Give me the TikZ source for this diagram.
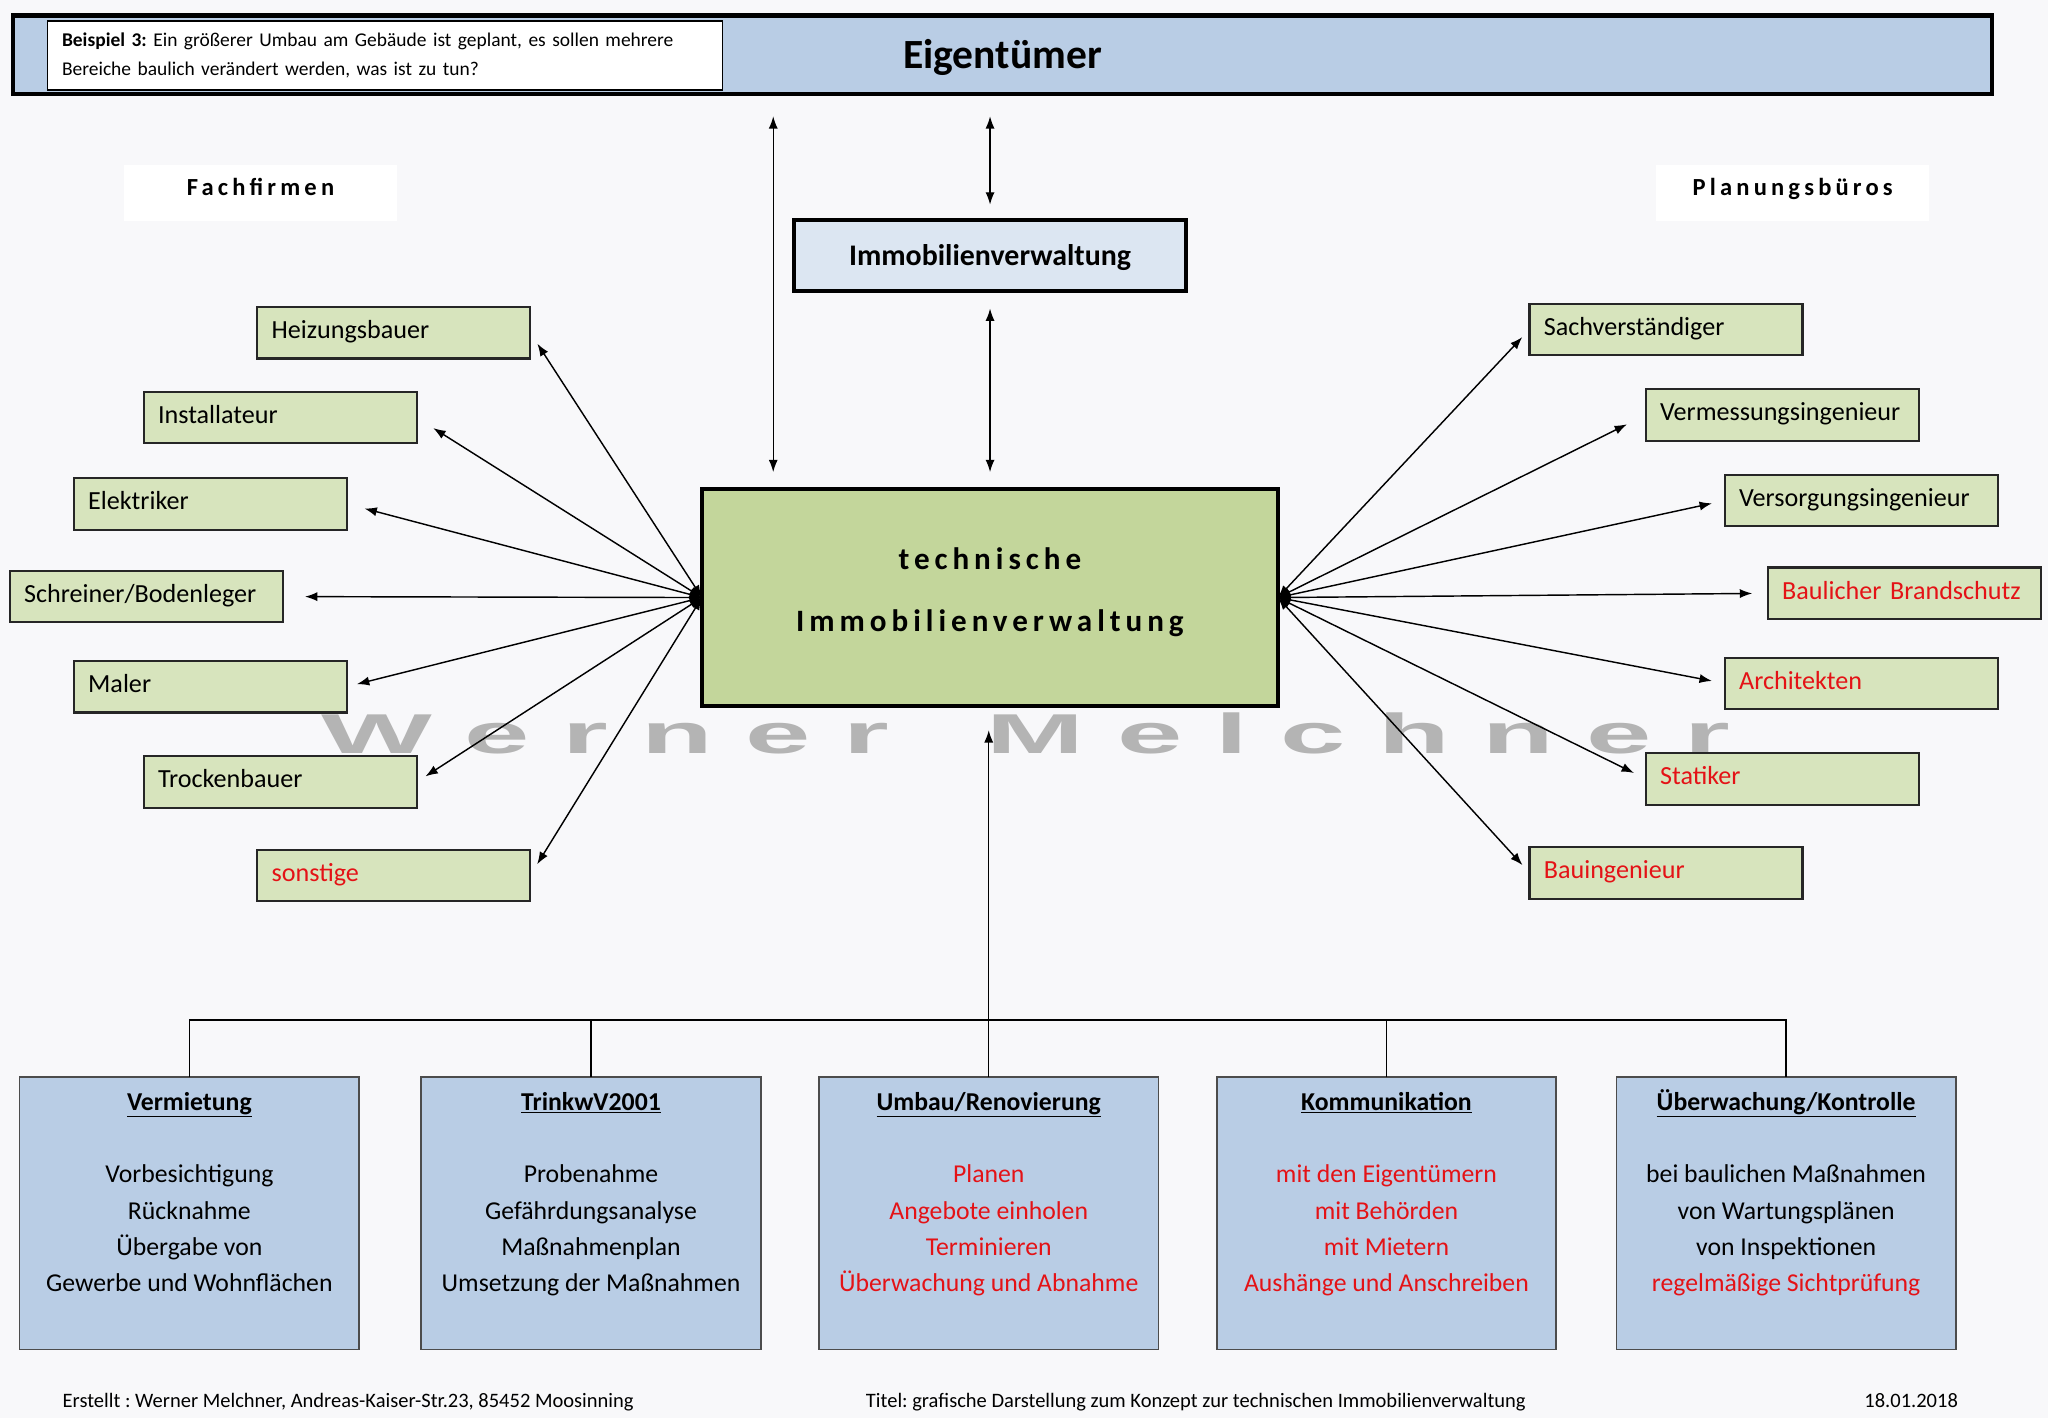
\documentclass[tikz,border=0pt]{standalone}
\usepackage{fontspec}
\usepackage{graphicx}
\setmainfont{Carlito}
\newfontfamily\wmfont{Liberation Sans}
\usetikzlibrary{arrows.meta}
\definecolor{bgc}{RGB}{248,248,250}
\definecolor{barblue}{RGB}{185,205,229}
\definecolor{lightblue}{RGB}{220,230,242}
\definecolor{techgreen}{RGB}{195,214,155}
\definecolor{gfill}{RGB}{215,228,189}
\definecolor{rtext}{RGB}{228,18,22}
\definecolor{wmgray}{RGB}{180,180,180}
\frenchspacing
\begin{document}
\begin{tikzpicture}[x=1pt,y=-1pt,
  every node/.style={inner sep=0pt,outer sep=0pt},
  >={Latex[length=9.5pt,width=7pt]},
  dbl/.style={<->,line width=1.1pt},
  sarr/.style={->,line width=1.1pt},
  gbox/.style={draw=black!85,line width=1.6pt,fill=gfill,minimum height=39.5pt,
    text width=187pt,inner xsep=11pt,align=left,anchor=north west,
    font=\fontsize{20}{23}\selectfont,text height=13pt,text depth=4pt},
  redtxt/.style={text=rtext},
  bbox/.style={draw=black!70,line width=1.3pt,fill=barblue,minimum width=260pt,minimum height=208.5pt},
  btext/.style={anchor=north,align=center,font=\fontsize{19.7}{27.8}\selectfont},
  hdbox/.style={fill=white,minimum width=209pt,minimum height=42.7pt,
    font=\bfseries\fontsize{18.8}{20}\selectfont\addfontfeature{LetterSpace=17},
    text height=8.8pt,text depth=4pt},
  foot/.style={font=\fontsize{15.7}{17}\selectfont}
]
\fill[bgc] (0,0) rectangle (1568,1086);
\useasboundingbox (0,0) rectangle (1568,1086);

% watermark
\node[text=wmgray,font=\wmfont\bfseries\fontsize{43}{43}\selectfont] (wm) at (785.5,561.3)
  {\scalebox{2.09}[1]{W e r n e r~~~M e l c h n e r}};

% top bar
\node[draw=black,line width=3.5pt,fill=barblue,minimum width=1515pt,minimum height=60pt,
  font=\bfseries\fontsize{31.8}{34}\selectfont,text height=21.5pt,text depth=0pt] (eig) at (767.5,42) {Eigentümer};
\node[draw=black,line width=1.2pt,fill=white,text width=494.5pt,inner xsep=11pt,minimum height=53pt,
  align=left,font=\fontsize{14.9}{21.7}\selectfont] (bsp) at (294.75,42.4)
  {\textbf{Beispiel 3:} Ein größerer Umbau am Gebäude ist geplant, es sollen mehrere\\Bereiche baulich verändert werden, was ist zu tun?};

% headers
\node[hdbox] (ff) at (199.5,147.6) {Fachfirmen};
\node[hdbox] (pb) at (1372.5,147.6) {Planungsbüros};

% management boxes
\node[draw=black,line width=3pt,fill=lightblue,minimum width=300pt,minimum height=54pt,
  font=\bfseries\fontsize{22.9}{25}\selectfont,text height=15.2pt,text depth=0pt] (imm) at (758,195.7) {Immobilienverwaltung};
\node[draw=black,line width=3pt,fill=techgreen,minimum width=441pt,minimum height=166pt] (tech) at (757.9,457.5) {};
\node[align=center,font=\bfseries\fontsize{23.8}{47.5}\selectfont\addfontfeature{LetterSpace=16}] (techt)
  at ([yshift=4pt]tech.center) {technische\\Immobilienverwaltung};

% left boxes
\node[gbox] (heiz) at (197,235) {Heizungsbauer};
\node[gbox] (inst) at (110,300) {Installateur};
\node[gbox] (elek) at (56.5,366) {Elektriker};
\node[gbox] (schr) at (7.5,437) {Schreiner/Bodenleger};
\node[gbox] (maler) at (56.5,506) {Maler};
\node[gbox] (trock) at (110,579) {Trockenbauer};
\node[gbox,redtxt] (sonst) at (197,650.5) {sonstige};

% right boxes
\node[gbox] (sach) at (1171,232.5) {Sachverständiger};
\node[gbox] (verm) at (1260,298) {Vermessungsingenieur};
\node[gbox] (vers) at (1320.5,363.5) {Versorgungsingenieur};
\node[gbox,redtxt] (brand) at (1353.5,434.5) {Baulicher Brandschutz};
\node[gbox,redtxt] (arch) at (1320.5,503.5) {Architekten};
\node[gbox,redtxt] (stat) at (1260,576.5) {Statiker};
\node[gbox,redtxt] (baui) at (1171,648.5) {Bauingenieur};

% fan arrows
\foreach \n/\s in {heiz/10,inst/15,elek/14,schr/17,maler/8,trock/8,sonst/10}
  \draw[dbl,shorten >=\s pt] (tech.west) -- (\n.east);
\foreach \n/\s in {sach/8,verm/16,vers/10,brand/12,arch/10,stat/10,baui/8}
  \draw[dbl,shorten >=\s pt] (tech.east) -- (\n.west);

% vertical arrows at top
\coordinate (ax) at (592,0);
\draw[dbl,shorten <=17pt,shorten >=13pt] (eig.south -| ax) -- (tech.north -| ax);
\draw[dbl,shorten <=17pt,shorten >=12pt] (eig.south -| imm.north) -- (imm.north);
\draw[dbl,shorten <=13.5pt,shorten >=13pt] (imm.south) -- (tech.north -| imm.south);

% bottom boxes
\node[bbox] (b1) at (145,929) {};
\node[bbox] (b2) at (452.5,929) {};
\node[bbox] (b3) at (757,929) {};
\node[bbox] (b4) at (1061.5,929) {};
\node[bbox] (b5) at (1367.5,929) {};

\node[btext] (t1) at (b1.center |- 0,833) {\rule{0pt}{17pt}\underline{\textbf{Vermietung}}\\[27.8pt]
  Vorbesichtigung\\Rücknahme\\Übergabe von\\Gewerbe und Wohnflächen};
\node[btext] (t2) at (b2.center |- 0,833) {\rule{0pt}{17pt}\underline{\textbf{TrinkwV2001}}\\[27.8pt]
  Probenahme\\Gefährdungsanalyse\\Maßnahmenplan\\Umsetzung der Maßnahmen};
\node[btext,text=rtext] (t3) at (b3.center |- 0,833) {\rule{0pt}{17pt}\textcolor{black}{\underline{\textbf{Umbau/Renovierung}}}\\[27.8pt]
  Planen\\Angebote einholen\\Terminieren\\Überwachung und Abnahme};
\node[btext,text=rtext] (t4) at (b4.center |- 0,833) {\rule{0pt}{17pt}\textcolor{black}{\underline{\textbf{Kommunikation}}}\\[27.8pt]
  mit den Eigentümern\\mit Behörden\\mit Mietern\\Aushänge und Anschreiben};
\node[btext] (t5) at (b5.center |- 0,833) {\rule{0pt}{17pt}\underline{\textbf{Überwachung/Kontrolle}}\\[27.8pt]
  bei baulichen Maßnahmen\\von Wartungsplänen\\von Inspektionen\\\textcolor{rtext}{regelmäßige Sichtprüfung}};

% bus
\coordinate (busy) at (0,781);
\draw[line width=1.1pt] (b1.north) -- (b1.north |- busy) -- (b5.north |- busy) -- (b5.north);
\foreach \b in {b2,b4} \draw[line width=1.1pt] (\b.north) -- (\b.north |- busy);
\draw[sarr,shorten >=18.5pt] (b3.north) -- (tech.south -| b3.north);

% footer
\node[foot,anchor=base west] (f1) at (48,1077.5) {Erstellt : Werner Melchner, Andreas-Kaiser-Str.23, 85452 Moosinning};
\node[foot,anchor=base west] (f2) at (663,1077.5) {Titel: grafische Darstellung zum Konzept zur technischen Immobilienverwaltung};
\node[foot,anchor=base east] (f3) at (1499,1077.5) {18.01.2018};
\end{tikzpicture}
\end{document}
